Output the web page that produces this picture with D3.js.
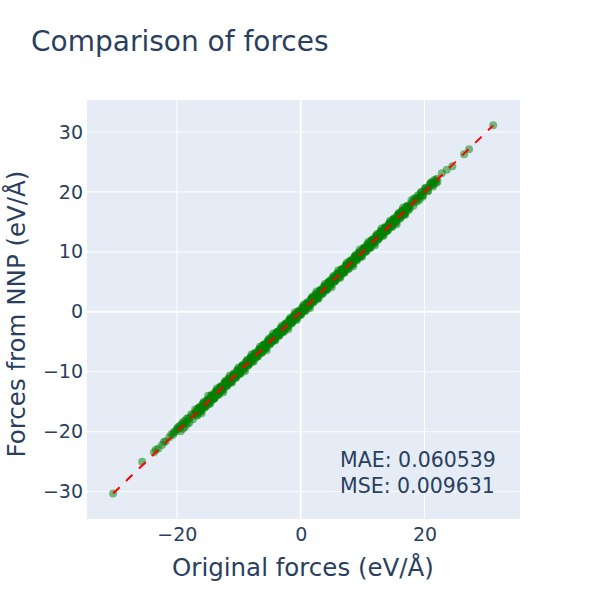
<!DOCTYPE html>
<html>
<head>
<meta charset="utf-8">
<script src="https://cdn.jsdelivr.net/npm/d3@7"></script>
<style>
  body { margin: 0; background: #fff; }
  svg text { font-family: Verdana, "DejaVu Sans", sans-serif; fill: #2a3f5f; }
</style>
</head>
<body>
<div id="chart"></div>
<script>
// [original force, force from NNP] (eV/Å)
var tailPairs = [
    [-30.3, -30.3], [-25.6, -25.0], [-23.7, -23.4], [-23.4, -23.0], [-23.0, -22.8], [-22.4, -22.2], [-22.1, -21.7],
    [-21.8, -21.6], [-21.2, -20.9], [-20.9, -20.4], [-20.6, -20.5], [-20.3, -20.0], [-19.9, -19.6], [-19.6, -19.4],
    [-19.2, -18.8], [-18.9, -18.7], [-18.5, -18.3], [-18.2, -17.8], [-17.9, -17.7], [-17.5, -17.3],
    [-19.8, -19.2], [-19.4, -19.9], [-19.1, -18.5], [-18.7, -19.2], [-18.4, -17.8], [-18.0, -18.5], [-17.7, -17.1], [-17.4, -17.9],
    [-19.5, -19.0], [-19.0, -19.5], [-18.3, -18.7], [-18.8, -18.2], [-20.0, -19.5], [-20.5, -20.1],
    [17.8, 18.0], [18.1, 18.4], [18.4, 18.3], [18.7, 19.0], [19.0, 18.9], [19.3, 19.5], [19.6, 19.4], [19.9, 20.1],
    [20.3, 20.4], [20.7, 20.8], [21.0, 21.4], [21.3, 21.6], [21.5, 21.3], [21.8, 21.9], [22.1, 21.7], [22.8, 23.1],
    [23.6, 23.7], [24.5, 24.3], [26.4, 26.3], [27.2, 27.1], [31.1, 31.1],
    [17.9, 18.6], [18.2, 17.7], [18.6, 18.9], [18.9, 19.4], [19.2, 18.7], [19.5, 20.0], [19.8, 19.5], [20.1, 20.6],
    [20.5, 20.2], [20.9, 21.3], [21.2, 21.1], [21.6, 22.0], [21.9, 21.5], [22.0, 22.2],
    [18.3, 18.9], [18.8, 18.4], [19.4, 19.9], [19.7, 19.2], [20.2, 20.7], [20.6, 20.1], [21.1, 21.6], [21.4, 20.9]
];
var bandPairs = [
    [-17.2, -17.0], [-16.8, -16.9], [-16.5, -16.1], [-16.1, -16.3], [-15.8, -15.5], [-15.4, -15.6], [-15.1, -14.8], [-14.7, -14.9],
    [-14.4, -14.0], [-14.0, -14.2], [-13.7, -13.4], [-13.3, -13.5], [-13.0, -12.7], [-12.6, -12.8], [-12.3, -11.9], [-11.9, -12.1],
    [-11.6, -11.3], [-11.2, -11.4], [-10.9, -10.6], [-10.5, -10.7], [-10.2, -9.8], [-9.8, -10.0], [-9.5, -9.2], [-9.1, -9.3],
    [-8.8, -8.5], [-8.4, -8.6], [-8.1, -7.7], [-7.7, -7.9], [-7.4, -7.1], [-7.0, -7.2], [-6.7, -6.4], [-6.3, -6.5],
    [-6.0, -5.6], [-5.6, -5.8], [-5.3, -5.0], [-4.9, -5.1], [-4.6, -4.3], [-4.2, -4.4], [-3.9, -3.5], [-3.5, -3.7],
    [-3.2, -2.9], [-2.8, -3.0], [-2.5, -2.2], [-2.1, -2.3], [-1.8, -1.4], [-1.4, -1.6], [-1.1, -0.8], [-0.7, -0.9],
    [-0.4, -0.1], [0.0, -0.2], [0.3, 0.6], [0.7, 0.5], [1.0, 1.3], [1.4, 1.2], [1.7, 2.1], [2.1, 1.9],
    [2.4, 2.7], [2.8, 2.6], [3.1, 3.5], [3.5, 3.3], [3.8, 4.1], [4.2, 4.0], [4.5, 4.9], [4.9, 4.7],
    [5.2, 5.5], [5.6, 5.4], [5.9, 6.3], [6.3, 6.1], [6.6, 6.9], [7.0, 6.8], [7.3, 7.7], [7.7, 7.5],
    [8.0, 8.3], [8.4, 8.2], [8.7, 9.1], [9.1, 8.9], [9.4, 9.7], [9.8, 9.6], [10.1, 10.5], [10.5, 10.3],
    [10.8, 11.1], [11.2, 11.0], [11.5, 11.9], [11.9, 11.7], [12.2, 12.5], [12.6, 12.4], [12.9, 13.3], [13.3, 13.1],
    [13.6, 13.9], [14.0, 13.8], [14.3, 14.7], [14.7, 14.5], [15.0, 15.3], [15.4, 15.2], [15.7, 16.1], [16.1, 15.9],
    [16.4, 16.7], [16.8, 16.6], [17.1, 17.5], [17.5, 17.3],
    [-16.9, -16.6], [-16.3, -16.5], [-15.6, -15.9], [-14.9, -14.6], [-14.2, -14.5], [-13.5, -13.2], [-12.8, -13.1], [-12.1, -11.7],
    [-11.4, -11.7], [-10.7, -10.4], [-10.0, -10.3], [-9.3, -8.9], [-8.6, -8.9], [-7.9, -7.6], [-7.2, -7.5], [-6.5, -6.1],
    [-5.8, -6.1], [-5.1, -4.8], [-4.4, -4.7], [-3.7, -3.3], [-3.0, -3.3], [-2.3, -2.0], [-1.6, -1.9], [-0.9, -0.5],
    [-0.2, -0.5], [0.5, 0.8], [1.2, 0.9], [1.9, 2.3], [2.6, 2.3], [3.3, 3.6], [4.0, 3.7], [4.7, 5.1],
    [5.4, 5.1], [6.1, 6.4], [6.8, 6.5], [7.5, 7.9], [8.2, 7.9], [8.9, 9.2], [9.6, 9.3], [10.3, 10.7],
    [11.0, 10.7], [11.7, 12.0], [12.4, 12.1], [13.1, 13.5], [13.8, 13.5], [14.5, 14.8], [15.2, 14.9], [15.9, 16.3],
    [16.6, 16.3], [17.3, 17.6]
];
var widePairs = [
    [-17.05, -16.3], [-16.7, -17.3], [-16.35, -16.0], [-16.0, -16.9], [-15.65, -15.0], [-15.3, -15.7], [-14.95, -14.0], [-14.6, -15.3],
    [-14.25, -14.1], [-13.9, -14.4], [-13.55, -12.8], [-13.2, -13.8], [-12.85, -12.5], [-12.5, -13.4], [-12.15, -11.5], [-11.8, -12.1],
    [-11.45, -10.6], [-11.1, -11.8], [-10.75, -10.5], [-10.4, -10.9], [-10.05, -9.3], [-9.7, -10.3], [-9.35, -9.0], [-9.0, -9.9],
    [-8.65, -8.0], [-8.3, -8.6], [-7.95, -7.1], [-7.6, -8.3], [-7.25, -7.0], [-6.9, -7.4], [-6.55, -5.8], [-6.2, -6.8],
    [-5.85, -5.5], [-5.5, -6.4], [-5.15, -4.5], [-4.8, -5.1], [-4.45, -3.6], [-4.1, -4.8], [-3.75, -3.5], [-3.4, -3.9],
    [-3.05, -2.3], [-2.7, -3.3], [-2.35, -2.0], [-2.0, -2.9], [-1.65, -1.0], [-1.3, -1.6], [-0.95, -0.1], [-0.6, -1.3],
    [-0.25, 0.0], [0.1, -0.4], [0.45, 1.2], [0.8, 0.2], [1.15, 1.5], [1.5, 0.6], [1.85, 2.5], [2.2, 1.9],
    [2.55, 3.4], [2.9, 2.2], [3.25, 3.5], [3.6, 3.1], [3.95, 4.7], [4.3, 3.7], [4.65, 5.0], [5.0, 4.1],
    [5.35, 6.0], [5.7, 5.4], [6.05, 6.9], [6.4, 5.7], [6.75, 7.0], [7.1, 6.6], [7.45, 8.2], [7.8, 7.2],
    [8.15, 8.5], [8.5, 7.6], [8.85, 9.5], [9.2, 8.9], [9.55, 10.4], [9.9, 9.2], [10.25, 10.5], [10.6, 10.1],
    [10.95, 11.7], [11.3, 10.7], [11.65, 12.0], [12.0, 11.1], [12.35, 13.0], [12.7, 12.4], [13.05, 13.9], [13.4, 12.7],
    [13.75, 14.0], [14.1, 13.6], [14.45, 15.2], [14.8, 14.2], [15.15, 15.5], [15.5, 14.6], [15.85, 16.5], [16.2, 15.9],
    [16.55, 17.4], [16.9, 16.2], [17.25, 17.5], [17.6, 17.2]
];
var corePairs = [
    [-16.9, -16.8], [-16.55, -16.6], [-16.2, -16.0], [-15.85, -15.9], [-15.5, -15.3], [-15.15, -15.2], [-14.8, -14.7], [-14.45, -14.5],
    [-14.1, -13.9], [-13.75, -13.8], [-13.4, -13.2], [-13.05, -13.1], [-12.7, -12.6], [-12.35, -12.4], [-12.0, -11.8], [-11.65, -11.7],
    [-11.3, -11.1], [-10.95, -11.0], [-10.6, -10.5], [-10.25, -10.3], [-9.9, -9.7], [-9.55, -9.6], [-9.2, -9.0], [-8.85, -8.9],
    [-8.5, -8.4], [-8.15, -8.2], [-7.8, -7.6], [-7.45, -7.5], [-7.1, -6.9], [-6.75, -6.8], [-6.4, -6.3], [-6.05, -6.1],
    [-5.7, -5.5], [-5.35, -5.4], [-5.0, -4.8], [-4.65, -4.7], [-4.3, -4.2], [-3.95, -4.0], [-3.6, -3.4], [-3.25, -3.3],
    [-2.9, -2.7], [-2.55, -2.6], [-2.2, -2.1], [-1.85, -1.9], [-1.5, -1.3], [-1.15, -1.2], [-0.8, -0.6], [-0.45, -0.5],
    [-0.1, 0.0], [0.25, 0.2], [0.6, 0.8], [0.95, 0.9], [1.3, 1.4], [1.65, 1.6], [2.0, 2.2], [2.35, 2.3],
    [2.7, 2.9], [3.05, 3.0], [3.4, 3.5], [3.75, 3.7], [4.1, 4.3], [4.45, 4.4], [4.8, 4.9], [5.15, 5.1],
    [5.5, 5.7], [5.85, 5.8], [6.2, 6.3], [6.55, 6.5], [6.9, 7.1], [7.25, 7.2], [7.6, 7.7], [7.95, 7.9],
    [8.3, 8.5], [8.65, 8.6], [9.0, 9.1], [9.35, 9.3], [9.7, 9.9], [10.05, 10.0], [10.4, 10.5], [10.75, 10.7],
    [11.1, 11.3], [11.45, 11.4], [11.8, 11.9], [12.15, 12.1], [12.5, 12.7], [12.85, 12.8], [13.2, 13.3], [13.55, 13.5],
    [13.9, 14.1], [14.25, 14.2], [14.6, 14.7], [14.95, 14.9], [15.3, 15.5], [15.65, 15.6], [16.0, 16.1], [16.35, 16.3],
    [16.7, 16.9], [17.05, 17.0], [17.4, 17.5]
];
var midPairs = [
    [-16.75, -17.2], [-16.4, -15.9], [-16.05, -16.5], [-15.7, -15.2], [-15.35, -15.8], [-15.0, -14.6], [-14.65, -15.1], [-14.3, -13.8],
    [-13.95, -14.4], [-13.6, -13.1], [-13.25, -13.7], [-12.9, -12.4], [-12.55, -13.0], [-12.2, -11.7], [-11.85, -12.3], [-11.5, -11.0],
    [-11.15, -11.6], [-10.8, -10.3], [-10.45, -10.9], [-10.1, -9.6], [-9.75, -10.2], [-9.4, -8.9], [-9.05, -9.5], [-8.7, -8.2],
    [-8.35, -8.8], [-8.0, -7.5], [-7.65, -8.1], [-7.3, -6.8], [-6.95, -7.4], [-6.6, -6.1], [-6.25, -6.7], [-5.9, -5.4],
    [-5.55, -6.0], [-5.2, -4.7], [-4.85, -5.3], [-4.5, -4.0], [-4.15, -4.6], [-3.8, -3.3], [-3.45, -3.9], [-3.1, -2.6],
    [-2.75, -3.2], [-2.4, -1.9], [-2.05, -2.5], [-1.7, -1.2], [-1.35, -1.8], [-1.0, -0.5], [-0.65, -1.1], [-0.3, 0.2],
    [0.05, -0.4], [0.4, 0.9], [0.75, 0.3], [1.1, 1.6], [1.45, 1.0], [1.8, 2.3], [2.15, 1.7], [2.5, 3.0],
    [2.85, 2.4], [3.2, 3.7], [3.55, 3.1], [3.9, 4.4], [4.25, 3.8], [4.6, 5.1], [4.95, 4.5], [5.3, 5.8],
    [5.65, 5.2], [6.0, 6.5], [6.35, 5.9], [6.7, 7.2], [7.05, 6.6], [7.4, 7.9], [7.75, 7.3], [8.1, 8.6],
    [8.45, 8.0], [8.8, 9.3], [9.15, 8.7], [9.5, 10.0], [9.85, 9.4], [10.2, 10.7], [10.55, 10.1], [10.9, 11.4],
    [11.25, 10.8], [11.6, 12.1], [11.95, 11.5], [12.3, 12.8], [12.65, 12.2], [13.0, 13.5], [13.35, 12.9], [13.7, 14.2],
    [14.05, 13.6], [14.4, 14.9], [14.75, 14.3], [15.1, 15.6], [15.45, 15.0], [15.8, 16.3], [16.15, 15.7], [16.5, 17.0],
    [16.85, 16.4], [17.2, 17.7]
];
var fillPairs = [
    [-16.6, -16.2], [-16.25, -16.7], [-15.9, -15.4], [-15.55, -16.0], [-15.2, -14.9], [-14.85, -15.4], [-14.5, -14.0], [-14.15, -14.6],
    [-13.8, -13.4], [-13.45, -13.9], [-13.1, -12.6], [-12.75, -13.2], [-12.4, -12.0], [-12.05, -12.5], [-11.7, -11.2], [-11.35, -11.8],
    [-11.0, -10.6], [-10.65, -11.1], [-10.3, -9.8], [-9.95, -10.4], [-9.6, -9.2], [-9.25, -9.7], [-8.9, -8.4], [-8.55, -9.0],
    [-8.2, -7.8], [-7.85, -8.3], [-7.5, -7.0], [-7.15, -7.6], [-6.8, -6.4], [-6.45, -6.9], [-6.1, -5.6], [-5.75, -6.2],
    [-5.4, -5.0], [-5.05, -5.5], [-4.7, -4.2], [-4.35, -4.8], [-4.0, -3.6], [-3.65, -4.1], [-3.3, -2.8], [-2.95, -3.4],
    [-2.6, -2.2], [-2.25, -2.7], [-1.9, -1.4], [-1.55, -2.0], [-1.2, -0.8], [-0.85, -1.3], [-0.5, 0.0], [-0.15, -0.6],
    [0.2, 0.6], [0.55, 0.1], [0.9, 1.4], [1.25, 0.8], [1.6, 2.0], [1.95, 1.5], [2.3, 2.8], [2.65, 2.2],
    [3.0, 3.4], [3.35, 2.9], [3.7, 4.2], [4.05, 3.6], [4.4, 4.8], [4.75, 4.3], [5.1, 5.6], [5.45, 5.0],
    [5.8, 6.2], [6.15, 5.7], [6.5, 7.0], [6.85, 6.4], [7.2, 7.6], [7.55, 7.1], [7.9, 8.4], [8.25, 7.8],
    [8.6, 9.0], [8.95, 8.5], [9.3, 9.8], [9.65, 9.2], [10.0, 10.4], [10.35, 9.9], [10.7, 11.2], [11.05, 10.6],
    [11.4, 11.8], [11.75, 11.3], [12.1, 12.6], [12.45, 12.0], [12.8, 13.2], [13.15, 12.7], [13.5, 14.0], [13.85, 13.4],
    [14.2, 14.6], [14.55, 14.1], [14.9, 15.4], [15.25, 14.8], [15.6, 16.0], [15.95, 15.5], [16.3, 16.8], [16.65, 16.2],
    [17.0, 17.4], [17.35, 16.9]
];
var xDomain = [-34.52, 35.43];
var yDomain = [-34.55, 35.33];
var xTicks = [-20, 0, 20];
var yTicks = [-30, -20, -10, 0, 10, 20, 30];
var idealLine = [-30.3, 31.1];
var statLines = ["MAE: 0.060539", "MSE: 0.009631"];

var forcePairs = tailPairs.concat(bandPairs, widePairs, corePairs, midPairs, fillPairs);

var width = 600, height = 600;
var plot = {left: 87, right: 520, top: 100, bottom: 519};

var svg = d3.select("#chart").append("svg")
    .attr("width", width)
    .attr("height", height);

var x = d3.scaleLinear().domain(xDomain).range([plot.left, plot.right]);
var y = d3.scaleLinear().domain(yDomain).range([plot.bottom, plot.top]);

// plot background
svg.append("rect")
    .attr("x", plot.left)
    .attr("y", plot.top)
    .attr("width", plot.right - plot.left)
    .attr("height", plot.bottom - plot.top)
    .attr("fill", "#e5ecf6");

// grid lines, zero lines a bit wider
var grid = svg.append("g");
grid.selectAll(".vgrid")
    .data(xTicks)
    .enter().append("line")
    .attr("x1", function (d) { return x(d); })
    .attr("x2", function (d) { return x(d); })
    .attr("y1", plot.top)
    .attr("y2", plot.bottom)
    .attr("stroke", "#fff")
    .attr("stroke-width", function (d) { return d === 0 ? 2 : 1; });
grid.selectAll(".hgrid")
    .data(yTicks)
    .enter().append("line")
    .attr("y1", function (d) { return y(d); })
    .attr("y2", function (d) { return y(d); })
    .attr("x1", plot.left)
    .attr("x2", plot.right)
    .attr("stroke", "#fff")
    .attr("stroke-width", function (d) { return d === 0 ? 2 : 1; });

// axes: labels only, no domain line or ticks
var fmt = function (d) { return d < 0 ? "\u2212" + Math.abs(d) : String(d); };
var xAxis = svg.append("g")
    .attr("transform", "translate(0," + plot.bottom + ")")
    .call(d3.axisBottom(x).tickValues(xTicks).tickFormat(fmt).tickSize(0));
var yAxis = svg.append("g")
    .attr("transform", "translate(" + plot.left + ",0)")
    .call(d3.axisLeft(y).tickValues(yTicks).tickFormat(fmt).tickSize(0).tickPadding(4));
[xAxis, yAxis].forEach(function (a) {
    a.select(".domain").remove();
    a.attr("font-family", null).attr("font-size", null);
    a.selectAll("text")
        .style("font-size", "19px")
        .attr("fill", "#2a3f5f");
});
xAxis.selectAll("text").attr("dy", null).attr("y", 22);

// scatter points
svg.append("g")
    .selectAll("circle")
    .data(forcePairs)
    .enter().append("circle")
    .attr("cx", function (d) { return x(d[0]); })
    .attr("cy", function (d) { return y(d[1]); })
    .attr("r", 4)
    .attr("fill", "green")
    .attr("fill-opacity", 0.5);

// ideal y = x line
svg.append("line")
    .attr("x1", x(idealLine[0]))
    .attr("y1", y(idealLine[0]))
    .attr("x2", x(idealLine[1]))
    .attr("y2", y(idealLine[1]))
    .attr("stroke", "red")
    .attr("stroke-width", 2)
    .attr("stroke-dasharray", "9,9");

// error annotation
svg.append("g")
    .selectAll("text")
    .data(statLines)
    .enter().append("text")
    .attr("x", 340)
    .attr("y", function (d, i) { return 467 + i * 26; })
    .style("font-size", "20.5px")
    .text(function (d) { return d; });

// titles
svg.append("text")
    .attr("x", 31)
    .attr("y", 51)
    .style("font-size", "28px")
    .text("Comparison of forces");
svg.append("text")
    .attr("x", 303)
    .attr("y", 576)
    .attr("text-anchor", "middle")
    .style("font-size", "24.5px")
    .text("Original forces (eV/\u00c5)");
svg.append("text")
    .attr("transform", "translate(25,314) rotate(-90)")
    .attr("text-anchor", "middle")
    .style("font-size", "24.5px")
    .text("Forces from NNP (eV/\u00c5)");
</script>
</body>
</html>
